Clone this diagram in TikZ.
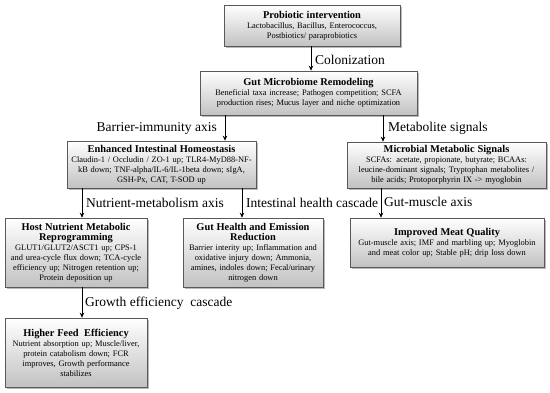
\documentclass[tikz,border=0pt]{standalone}
\usepackage{fontspec}
\setmainfont{Liberation Serif}
\usetikzlibrary{shadows,arrows.meta}
\begin{document}
\begin{tikzpicture}[x=1pt,y=-1pt,
 box/.style={draw=black!65, line width=0.6pt, top color=white, bottom color=black!24,
   drop shadow={shadow xshift=1.8pt, shadow yshift=-1.8pt, fill=black!50, opacity=0.55},
   align=center, inner sep=1pt, font=\fontsize{8.4}{10}\selectfont},
 arr/.style={-{Stealth[length=5pt,width=4.5pt]}, line width=0.8pt},
 lbl/.style={font=\fontsize{13.5}{14}\selectfont, inner sep=0pt}]
\useasboundingbox (0,0) rectangle (550,393);
\newcommand{\ttlfont}{\bfseries\fontsize{10.4}{11.5}\selectfont}

\node[box, minimum width=176pt, minimum height=41pt, text width=174pt] (b1) at (312,25.5)
 {{\ttlfont Probiotic intervention}\\Lactobacillus, Bacillus, Enterococcus,\\Postbiotics/ paraprobiotics};
\node[box, minimum width=217pt, minimum height=44pt, text width=215pt] (b2) at (308.5,93)
 {{\ttlfont Gut Microbiome Remodeling}\\Beneficial taxa increase; Pathogen competition; SCFA\\production rises; Mucus layer and niche optimization};
\node[box, minimum width=189pt, minimum height=47pt, text width=187pt] (b3) at (161.5,164.5)
 {{\ttlfont Enhanced Intestinal Homeostasis}\\Claudin-1 / Occludin / ZO-1 up; TLR4-MyD88-NF-\\kB down; TNF-alpha/IL-6/IL-1beta down; sIgA,\\GSH-Px, CAT, T-SOD up};
\node[box, minimum width=197pt, minimum height=46pt, text width=197pt] (b4) at (446.5,165)
 {{\ttlfont Microbial Metabolic Signals}\\SCFAs: acetate, propionate, butyrate; BCAAs:\\leucine-dominant signals; Tryptophan metabolites /\\bile acids; Protoporphyrin IX -> myoglobin};
\node[box, minimum width=142pt, minimum height=69pt, text width=140pt] (b5) at (76,252.5)
 {{\ttlfont Host Nutrient Metabolic\\Reprogramming}\\GLUT1/GLUT2/ASCT1 up; CPS-1\\and urea-cycle flux down; TCA-cycle\\efficiency up; Nitrogen retention up;\\Protein deposition up};
\node[box, minimum width=140pt, minimum height=69pt, text width=138pt] (b6) at (253,252.5)
 {{\ttlfont Gut Health and Emission\\Reduction}\\Barrier interity up; Inflammation and\\oxidative injury down; Ammonia,\\amines, indoles down; Fecal/urinary\\nitrogen down};
\node[box, minimum width=194pt, minimum height=49pt, text width=192pt] (b7) at (447,242.5)
 {{\ttlfont Improved Meat Quality}\\Gut-muscle axis; IMF and marbling up; Myoglobin\\and meat color up; Stable pH; drip loss down};
\node[box, minimum width=142pt, minimum height=69pt, text width=140pt] (b8) at (76,352.5)
 {{\ttlfont Higher Feed\ \ Efficiency}\\Nutrient absorption up; Muscle/liver,\\protein catabolism down; FCR\\improves, Growth performance\\stabilizes\\[13pt]};

\draw[arr] (b1.south -| 311,0) -- (b2.north -| 311,0);
\draw[arr] (b2.south -| 225,0) -- (b3.north -| 225,0);
\draw[arr] (b2.south -| 383,0) -- (b4.north -| 383,0);
\draw[arr] (b3.south -| 82,0) -- (b5.north -| 82,0);
\draw[arr] (b3.south -| 242,0) -- (b6.north -| 242,0);
\draw[arr] (b4.south -| 381,0) -- (b7.north -| 381,0);
\draw[arr] (b5.south -| 82,0) -- (b8.north -| 82,0);

\node[lbl, anchor=west] (l1) at (315,60) {Colonization};
\node[lbl, anchor=east] (l2) at (217,128) {Barrier-immunity axis};
\node[lbl, anchor=west] (l3) at (388,128) {Metabolite signals};
\node[lbl, anchor=west] (l4) at (86,203) {Nutrient-metabolism axis};
\node[lbl, anchor=west] (l5) at (246,203) {Intestinal health cascade};
\node[lbl, anchor=west] (l6) at (384,202) {Gut-muscle axis};
\node[lbl, anchor=west] (l7) at (85,303) {Growth efficiency\ \ cascade};
\end{tikzpicture}
\end{document}
